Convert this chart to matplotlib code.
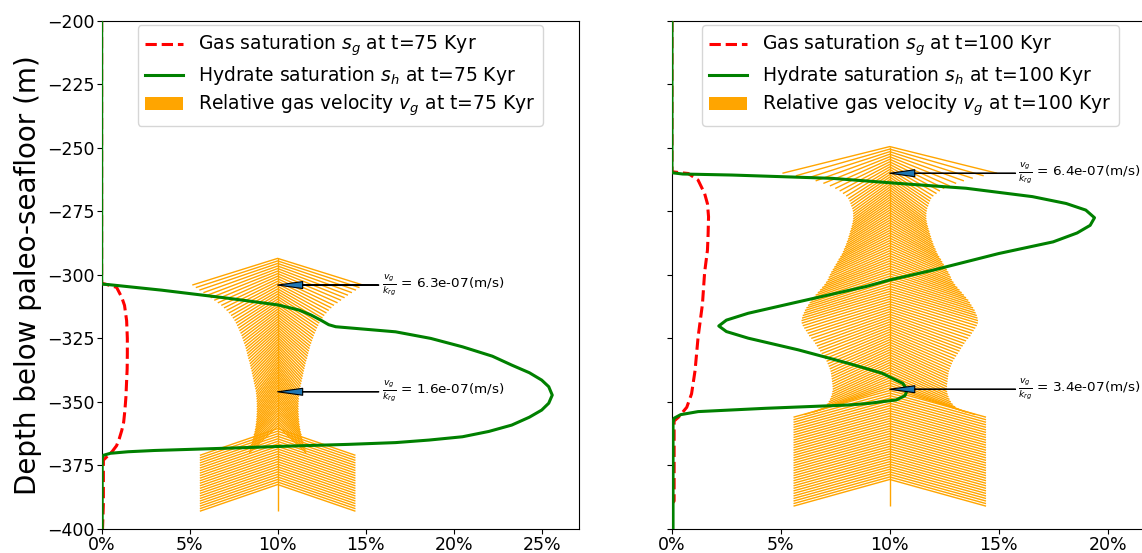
import numpy as np
import matplotlib
matplotlib.use('Agg')
import matplotlib.pyplot as plt
from matplotlib.collections import LineCollection
from matplotlib.patches import Patch
from matplotlib.ticker import PercentFormatter

# ---- t = 75 Kyr ----
# hydrate saturation (%) vs depth (m)
sh75_depth = [-200, -303.6, -303.9, -306.0, -309.2, -311.8, -313.8, -315.8, -318.0, -319.6,
              -320.4, -322.4, -325.0, -328.3, -332.0, -335.5, -338.5, -341.4, -344.0, -347.3,
              -350.5, -353.2, -356.0, -359.1, -361.6, -363.7, -365.0, -366.0, -366.7, -367.3,
              -368.0, -368.6, -369.1, -369.6, -370.2, -371.0, -372.0, -400]
sh75 = [0, 0, 0.5, 3.4, 7.2, 10.0, 11.2, 11.9, 12.5, 12.9,
        13.3, 16.7, 18.7, 20.5, 22.2, 23.3, 24.3, 25.0, 25.4, 25.6,
        25.4, 25.0, 24.3, 23.3, 22.0, 20.5, 18.6, 16.7, 14.0, 11.0,
        8.0, 5.3, 3.0, 1.5, 0.5, 0.1, 0.03, 0.03]
# gas saturation (%)
sg75_depth = [-200, -303.3, -303.8, -304.9, -308.8, -312.0, -318.0, -325.0, -331.1, -337.0,
              -341.6, -348.0, -353.4, -358.0, -361.3, -364.5, -367.2, -369.5, -371.0, -372.9,
              -390.0, -400]
sg75 = [0, 0, 0.3, 0.85, 1.14, 1.3, 1.42, 1.46, 1.46, 1.45,
        1.42, 1.38, 1.32, 1.25, 1.14, 1.0, 0.85, 0.6, 0.38, 0.1,
        0.1, 0.05]
# gas velocity v_g/k_rg (1e-7 m/s), one value per metre from -304 m down to -393 m
vg75_top = -304
vg75 = [6.3, 6.04, 5.78, 5.48, 5.19, 4.94, 4.68, 4.42, 4.16, 3.96,
        3.77, 3.6, 3.44, 3.31, 3.18, 3.08, 2.99, 2.9, 2.82, 2.74,
        2.66, 2.6, 2.53, 2.47, 2.4, 2.35, 2.3, 2.25, 2.21, 2.16,
        2.1, 2.05, 2.01, 1.97, 1.92, 1.88, 1.84, 1.8, 1.76, 1.72,
        1.68, 1.64, 1.6, 1.58, 1.56, 1.55, 1.54, 1.53, 1.53, 1.53,
        1.53, 1.54, 1.55, 1.56, 1.58, 1.6, 1.63, 1.66, 1.7, 1.75,
        1.8, 1.85, 1.9, 1.95, 2.0, 2.05, 2.1, 5.74, 5.74, 5.74,
        5.74, 5.74, 5.74, 5.74, 5.74, 5.74, 5.74, 5.74, 5.74, 5.74,
        5.74, 5.74, 5.74, 5.74, 5.74, 5.74, 5.74, 5.74, 5.74, 5.74]
vg75_marks = [-304, -346]

# ---- t = 100 Kyr ----
sh100_depth = [-200, -259.8, -260.3, -260.7, -262.0, -264.0, -265.9, -269.2, -271.9, -274.5,
               -277.5, -280.5, -283.5, -287.0, -291.6, -298.1, -302.0, -304.6, -310.6, -315.1,
               -317.8, -320.1, -322.3, -324.9, -329.5, -334.8, -338.7, -342.7, -345.3, -347.5,
               -349.2, -350.6, -351.2, -352.5, -353.8, -355.0, -356.4, -358.0, -400]
sh100 = [0, 0, 0.5, 2.75, 7.35, 10.4, 13.5, 16.55, 18.1, 19.0,
         19.4, 19.2, 18.6, 17.5, 15.0, 12.0, 10.0, 8.9, 5.8, 3.5,
         2.5, 2.15, 2.5, 3.5, 5.8, 8.1, 9.65, 10.6, 10.8, 10.7,
         10.3, 9.0, 8.1, 4.3, 1.2, 0.4, 0.1, 0.05, 0.05]
sg100_depth = [-200, -259.4, -259.8, -260.1, -262.7, -268.0, -272.0, -277.1, -284.0, -290.3,
               -299.0, -311.5, -324.5, -337.7, -346.8, -352.1, -356.0, -357.5, -389.0, -390.0]
sg100 = [0, 0, 0.4, 0.75, 1.2, 1.5, 1.63, 1.68, 1.66, 1.63,
         1.5, 1.4, 1.2, 1.06, 0.9, 0.68, 0.3, 0.1, 0.1, 0.0]
vg100_top = -260
vg100 = [6.4, 5.6, 4.95, 4.42, 3.96, 3.57, 3.25, 2.99, 2.79, 2.6,
         2.47, 2.4, 2.34, 2.29, 2.23, 2.2, 2.18, 2.18, 2.18, 2.2,
         2.23, 2.27, 2.31, 2.36, 2.4, 2.45, 2.49, 2.55, 2.6, 2.66,
         2.73, 2.79, 2.86, 2.95, 3.05, 3.13, 3.22, 3.31, 3.4, 3.49,
         3.57, 3.64, 3.7, 3.8, 3.9, 4.03, 4.16, 4.29, 4.42, 4.55,
         4.68, 4.78, 4.87, 4.97, 5.06, 5.12, 5.19, 5.23, 5.26, 5.25,
         5.19, 5.1, 5.0, 4.9, 4.81, 4.68, 4.55, 4.45, 4.35, 4.25,
         4.16, 4.06, 3.96, 3.86, 3.77, 3.7, 3.64, 3.58, 3.53, 3.5,
         3.48, 3.46, 3.44, 3.42, 3.41, 3.4, 3.42, 3.45, 3.5, 3.56,
         3.64, 3.75, 3.9, 4.15, 4.55, 5.1, 5.74, 5.74, 5.74, 5.74,
         5.74, 5.74, 5.74, 5.74, 5.74, 5.74, 5.74, 5.74, 5.74, 5.74,
         5.74, 5.74, 5.74, 5.74, 5.74, 5.74, 5.74, 5.74, 5.74, 5.74,
         5.74, 5.74, 5.74, 5.74, 5.74, 5.74, 5.74, 5.74, 5.74, 5.74,
         5.74, 5.74]
vg100_marks = [-260, -345]

x_center = 10.0     # arrows are drawn at the 10% column
v_scale = 0.77      # % of half-width per 1e-7 m/s
head_len = 10.5     # arrow length in m


def draw_panel(ax, t, sg_d, sg, sh_d, sh, v_top, vg, marks, xmax):
    depth = v_top - np.arange(len(vg))
    half = np.array(vg) * v_scale
    segs = [[(x_center - w, d), (x_center, d + head_len), (x_center + w, d)]
            for d, w in zip(depth, half)]
    segs.append([(x_center, depth.min()), (x_center, depth.max() + head_len)])
    ax.add_collection(LineCollection(segs, colors='orange', linewidths=1.0, zorder=1))

    ax.plot(sg, sg_d, 'r--', lw=2.2, zorder=3, label='Gas saturation $s_g$ at t=%d Kyr' % t)
    ax.plot(sh, sh_d, 'g-', lw=2.2, zorder=4, label='Hydrate saturation $s_h$ at t=%d Kyr' % t)

    for m in marks:
        v = vg[int(v_top - m)]
        ax.annotate(r'$\frac{v_g}{k_{rg}}$' + ' = %.1e(m/s)' % (v * 1e-7),
                    xy=(x_center, m), xytext=(15.9, m), va='center', ha='left', fontsize=9.7,
                    arrowprops=dict(facecolor='C0', edgecolor='black', width=0.3,
                                    headwidth=5, headlength=18, lw=0.8),
                    zorder=5)

    handles, labels = ax.get_legend_handles_labels()
    handles.append(Patch(facecolor='orange'))
    labels.append('Relative gas velocity $v_g$ at t=%d Kyr' % t)
    ax.legend(handles, labels, loc='upper center', fontsize=13.5,
              labelspacing=0.3, borderaxespad=0.25)

    ax.set_xlim(0, xmax)
    ax.set_ylim(-400, -200)
    ax.set_xticks(np.arange(0, xmax, 5))
    ax.set_yticks(np.arange(-400, -199, 25))
    ax.xaxis.set_major_formatter(PercentFormatter(decimals=0))
    ax.tick_params(labelsize=12.5, pad=1.5)


fig = plt.figure(figsize=(11.42, 5.53), dpi=100)
ax1 = fig.add_axes([0.089, 0.0434, 0.4177, 0.919])
ax2 = fig.add_axes([0.5884, 0.0434, 0.4177, 0.919], sharey=ax1)

draw_panel(ax1, 75, sg75_depth, sg75, sh75_depth, sh75, vg75_top, vg75, vg75_marks, 27.1)
draw_panel(ax2, 100, sg100_depth, sg100, sh100_depth, sh100, vg100_top, vg100, vg100_marks, 21.9)
ax2.tick_params(labelleft=False)
ax1.set_ylabel('Depth below paleo-seafloor (m)', fontsize=20)

fig.savefig('out.png', dpi=100)
